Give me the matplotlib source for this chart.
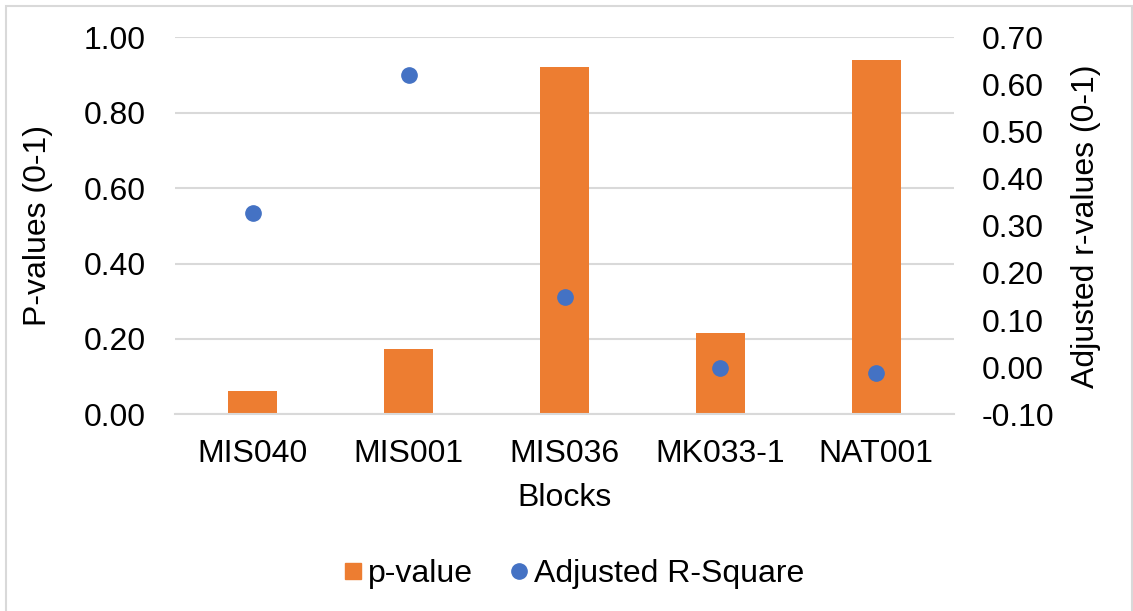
import matplotlib
matplotlib.use("Agg")
import matplotlib.pyplot as plt
from matplotlib.lines import Line2D
from matplotlib.patches import Rectangle
import numpy as np

blocks = ["MIS040", "MIS001", "MIS036", "MK033-1", "NAT001"]
p_values = [0.061, 0.173, 0.922, 0.215, 0.941]
adj_r2 = [0.327, 0.619, 0.149, -0.002, -0.013]
left_ticks = [0.0, 0.2, 0.4, 0.6, 0.8, 1.0]
right_ticks = [-0.1, 0.0, 0.1, 0.2, 0.3, 0.4, 0.5, 0.6, 0.7]

orange = "#ED7D31"
blue = "#4472C4"
grid_c = "#D9D9D9"
fs = 23

plt.rcParams['font.family'] = ['Liberation Sans', 'DejaVu Sans']

fig = plt.figure(figsize=(11.33, 6.11), dpi=100)
W, H = 1133, 611
ax = fig.add_axes([175 / W, 1 - 414.3 / H, (954 - 175) / W, (414.3 - 37.3) / H])
x = np.arange(len(blocks))
ax.bar(x, p_values, width=0.314, color=orange, zorder=2)
ax.set_xlim(-0.5, len(blocks) - 0.5)
ax.set_ylim(0, 1.0)
ax.set_yticks(left_ticks)
ax.set_yticklabels([f"{v:.2f}" for v in left_ticks])
ax.yaxis.grid(True, color=grid_c, lw=1.5, zorder=0)
ax.set_axisbelow(True)
for s in ["top", "left", "right"]:
    ax.spines[s].set_visible(False)
ax.spines["bottom"].set_color(grid_c)
ax.spines["bottom"].set_linewidth(1.5)
ax.set_xticks(x)
ax.set_xticklabels(blocks)
ax.tick_params(axis="y", length=0, pad=21, labelsize=fs)
ax.tick_params(axis="x", length=0, pad=18, labelsize=fs)
ax.set_ylabel("P-values (0-1)", fontsize=fs, labelpad=22)
ax.set_xlabel("Blocks", fontsize=fs, labelpad=10)

ax2 = ax.twinx()
ax2.plot(x, adj_r2, "o", color=blue, markersize=11, zorder=3)
ax2.set_ylim(-0.1, 0.7)
ax2.set_yticks(right_ticks)
ax2.set_yticklabels([f"{v:.2f}" for v in right_ticks])
for s in ["top", "left", "right", "bottom"]:
    ax2.spines[s].set_visible(False)
ax2.tick_params(axis="y", length=0, pad=20, labelsize=fs)
ax2.set_ylabel("Adjusted r-values (0-1)", fontsize=fs, labelpad=12)

handles = [
    Line2D([], [], marker="s", color=orange, linestyle="none", markersize=12),
    Line2D([], [], marker="o", color=blue, linestyle="none", markersize=11),
]
fig.legend(handles, ["p-value", "Adjusted R-Square"], loc="center",
           bbox_to_anchor=(574 / W, 1 - 574 / H), ncol=2, frameon=False,
           fontsize=fs, handlelength=0.55, handletextpad=0.2, columnspacing=1.15)

fig.add_artist(Rectangle((6 / W, -0.01), (1131.5 - 6) / W, 1.01 - 6 / H,
                         transform=fig.transFigure, fill=False,
                         edgecolor=grid_c, lw=1.5))

fig.savefig("out.png", dpi=100, facecolor="white")
